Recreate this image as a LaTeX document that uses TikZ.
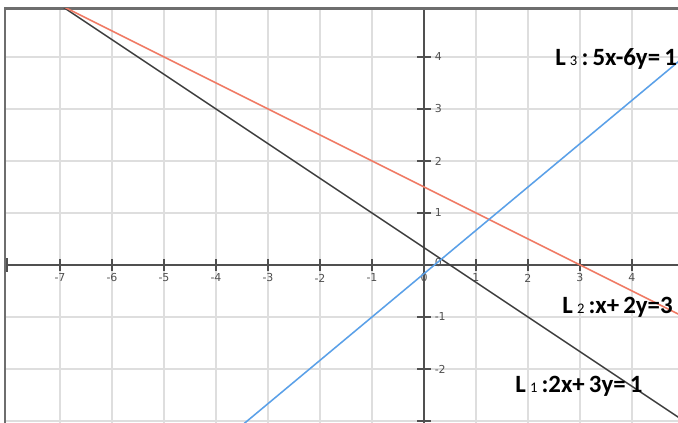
\documentclass[tikz,border=0pt]{standalone}
\usepackage{fontspec}
\setmainfont{Carlito}
\newfontfamily\tickfont{DejaVu Sans}
\definecolor{gridc}{RGB}{222,222,222}
\definecolor{axisc}{RGB}{80,80,80}
\definecolor{framec}{RGB}{110,110,110}
\definecolor{lonec}{RGB}{60,60,60}
\definecolor{ltwoc}{RGB}{240,122,100}
\definecolor{lthreec}{RGB}{90,160,232}
\tikzset{
  gridline/.style={draw=gridc, line width=0.85pt},
  axisline/.style={draw=axisc, line width=0.85pt},
  frameline/.style={draw=framec, line width=1.4pt},
  tickline/.style={draw=axisc, line width=0.75pt},
  ticklbl/.style={font=\tickfont\fontsize{6}{7}\selectfont, text=axisc, inner sep=0pt},
  eqlbl/.style={font=\bfseries\fontsize{13.6}{15}\selectfont, text=black, inner sep=0pt, anchor=base west},
  lineone/.style={draw=lonec, line width=0.8pt},
  linetwo/.style={draw=ltwoc, line width=0.85pt},
  linethree/.style={draw=lthreec, line width=0.85pt}
}
\newcommand{\subdig}[1]{{\mdseries\fontsize{8}{9}\selectfont #1}}
\begin{document}
\begin{tikzpicture}[x=1cm,y=1cm]
\useasboundingbox (-8.154,-3.038) rectangle (4.885,5.096);
\fill[white] (-8.154,-3.038) rectangle (4.885,5.096);
% grid
\foreach \x in {-7,...,4} \draw[gridline] (\x,-3.1) -- (\x,4.933);
\foreach \y in {-3,...,4} \draw[gridline] (-8.058,\y) -- (4.9,\y);
% axes
\draw[axisline] (-8.058,0) -- (4.9,0);
\draw[axisline] (0,-3.1) -- (0,4.933);
\draw[axisc, line width=1.4pt] (-8.02,-0.13) -- (-8.02,0.13);
% x ticks and labels
\foreach \x in {-7,...,-1,1,2,3,4} {
  \draw[tickline] (\x,-0.11) -- (\x,0.11);
  \node[ticklbl] (xl\x) at (\x,-0.25) {\x};
}
\node[ticklbl] (xl0) at (0,-0.25) {0};
% y ticks and labels
\foreach \y in {-3,-2,-1,1,2,3,4} {
  \draw[tickline] (-0.13,\y) -- (0.13,\y);
}
\foreach \y in {-2,-1,1,2,3,4} {
  \node[ticklbl, anchor=west] (yl\y) at (0.2,\y) {\y};
}
\node[ticklbl, anchor=west] (yl0) at (0.2,0.05) {0};
% frame
\draw[frameline] (-8.058,-3.1) -- (-8.058,4.933) -- (4.9,4.933);
% lines
\begin{scope}
  \clip (-8.058,-3.1) rectangle (4.9,4.933);
  \draw[lineone] (-8,17/3) -- (5,-3);
  \draw[linetwo] (-8,5.5) -- (5,-1);
  \draw[linethree] (-4,-3.5) -- (5,4);
\end{scope}
% labels
\node[eqlbl] (lthree) at (2.519,3.827) {L\,\subdig{3}\,:\,5x-6y=\,1};
\node[eqlbl] (ltwo) at (2.654,-0.942) {L\,\subdig{2}\,:x+\,2y=3};
\node[eqlbl] (lone) at (1.75,-2.46) {L\,\subdig{1}\,:2x+\,3y=\,1};
\end{tikzpicture}
\end{document}
